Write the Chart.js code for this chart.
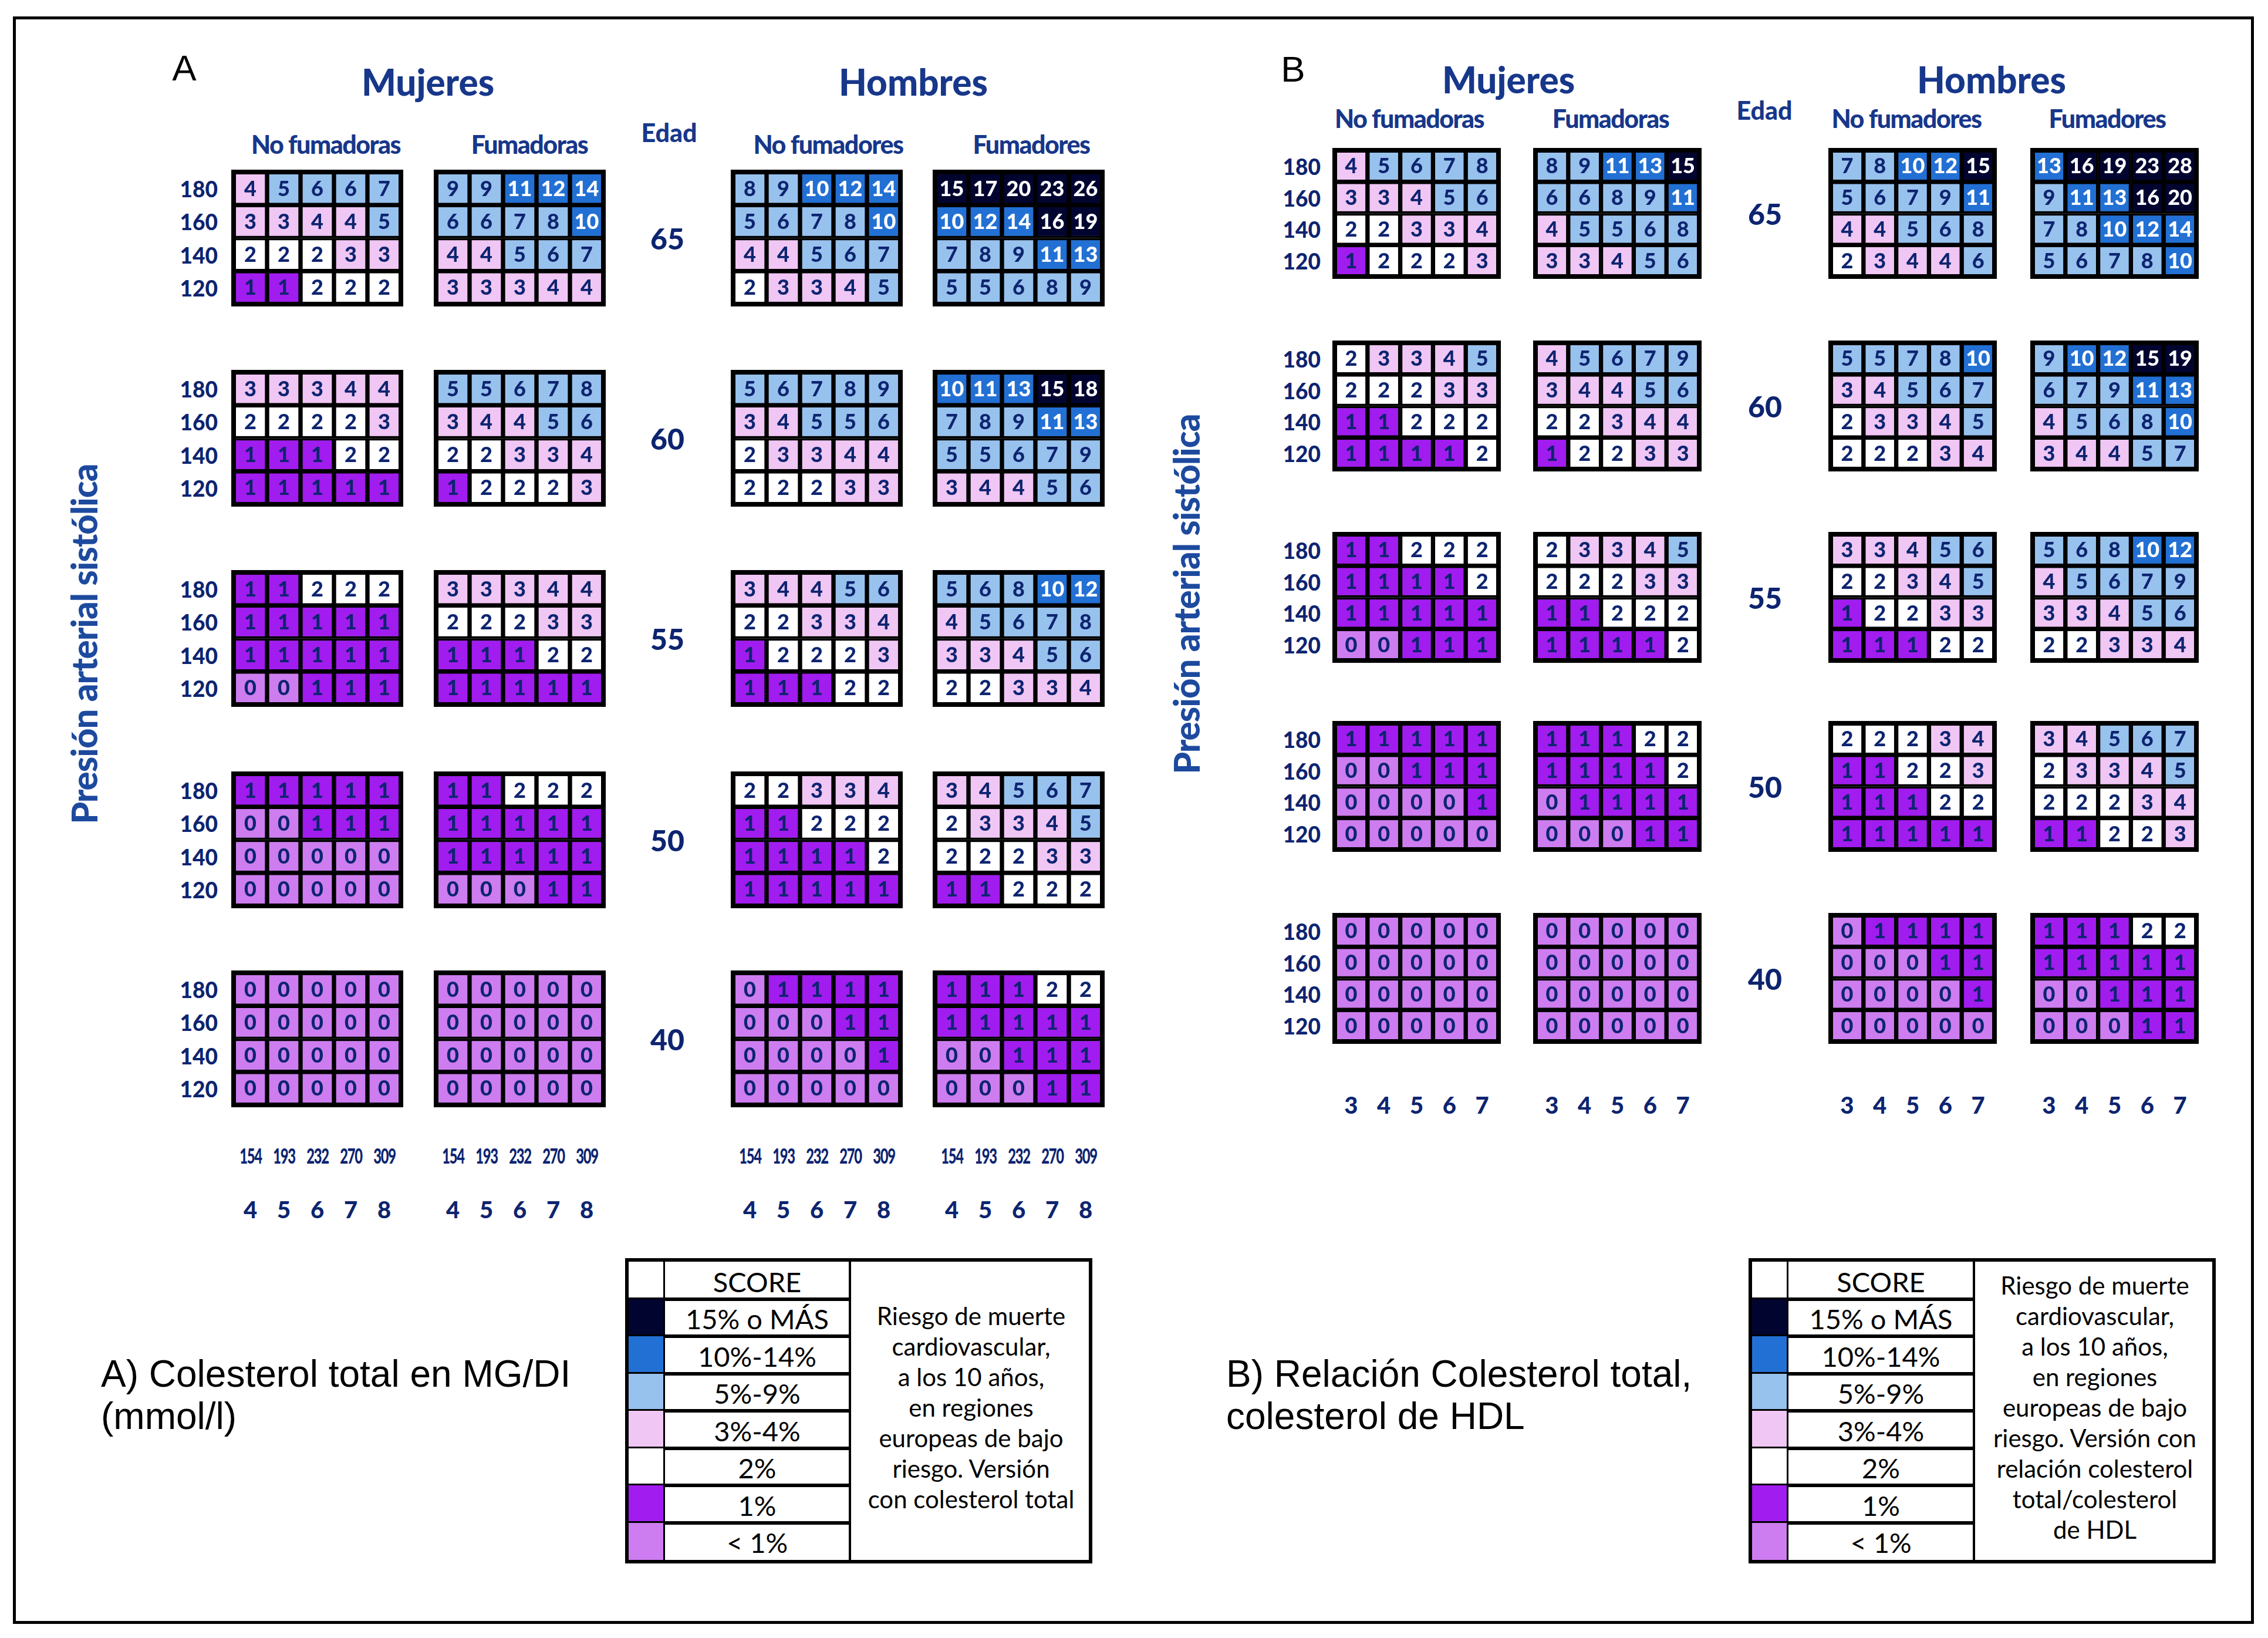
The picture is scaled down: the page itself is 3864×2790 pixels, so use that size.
<!DOCTYPE html>
<html>
<head>
<meta charset="utf-8">
<title>SCORE - riesgo cardiovascular</title>
<script src="https://cdn.jsdelivr.net/npm/chart.js@4.4.1/dist/chart.umd.min.js"></script>
<style>
  html, body { margin: 0; padding: 0; background: #fff; }
  #page { position: relative; width: 3864px; height: 2790px; overflow: hidden; font-family: Lato, 'Open Sans', sans-serif; }
  #frame { position: absolute; left: 22px; top: 28px; width: 3818px; height: 2738px; border: 5px solid #000; box-sizing: border-box; }
  .t { position: absolute; white-space: nowrap; line-height: 1; transform: translate(-50%, -50%); }
  canvas.grid { position: absolute; }
</style>
</head>
<body>
<div id="page"><div id="frame"></div></div>
<script>
const ages = [65, 60, 55, 50, 40];
const sbpLabels = ['180', '160', '140', '120'];
const cholMmol = ['4', '5', '6', '7', '8'];
const cholMg = ['154', '193', '232', '270', '309'];
const ratioLabels = ['3', '4', '5', '6', '7'];
const scoreLevels = ['15% o MÁS', '10%-14%', '5%-9%', '3%-4%', '2%', '1%', '< 1%'];
const levelColors = ['#020430', '#2270d4', '#98c2ee', '#f0c6f4', '#ffffff', '#a11cef', '#cd7df0'];

// A) colesterol total - rows 180..120, columns 4..8 mmol/l, one block per age
const aWomenNonSmoker = [
  [[4, 5, 6, 6, 7], [3, 3, 4, 4, 5], [2, 2, 2, 3, 3], [1, 1, 2, 2, 2]],
  [[3, 3, 3, 4, 4], [2, 2, 2, 2, 3], [1, 1, 1, 2, 2], [1, 1, 1, 1, 1]],
  [[1, 1, 2, 2, 2], [1, 1, 1, 1, 1], [1, 1, 1, 1, 1], [0, 0, 1, 1, 1]],
  [[1, 1, 1, 1, 1], [0, 0, 1, 1, 1], [0, 0, 0, 0, 0], [0, 0, 0, 0, 0]],
  [[0, 0, 0, 0, 0], [0, 0, 0, 0, 0], [0, 0, 0, 0, 0], [0, 0, 0, 0, 0]]
];
const aWomenSmoker = [
  [[9, 9, 11, 12, 14], [6, 6, 7, 8, 10], [4, 4, 5, 6, 7], [3, 3, 3, 4, 4]],
  [[5, 5, 6, 7, 8], [3, 4, 4, 5, 6], [2, 2, 3, 3, 4], [1, 2, 2, 2, 3]],
  [[3, 3, 3, 4, 4], [2, 2, 2, 3, 3], [1, 1, 1, 2, 2], [1, 1, 1, 1, 1]],
  [[1, 1, 2, 2, 2], [1, 1, 1, 1, 1], [1, 1, 1, 1, 1], [0, 0, 0, 1, 1]],
  [[0, 0, 0, 0, 0], [0, 0, 0, 0, 0], [0, 0, 0, 0, 0], [0, 0, 0, 0, 0]]
];
const aMenNonSmoker = [
  [[8, 9, 10, 12, 14], [5, 6, 7, 8, 10], [4, 4, 5, 6, 7], [2, 3, 3, 4, 5]],
  [[5, 6, 7, 8, 9], [3, 4, 5, 5, 6], [2, 3, 3, 4, 4], [2, 2, 2, 3, 3]],
  [[3, 4, 4, 5, 6], [2, 2, 3, 3, 4], [1, 2, 2, 2, 3], [1, 1, 1, 2, 2]],
  [[2, 2, 3, 3, 4], [1, 1, 2, 2, 2], [1, 1, 1, 1, 2], [1, 1, 1, 1, 1]],
  [[0, 1, 1, 1, 1], [0, 0, 0, 1, 1], [0, 0, 0, 0, 1], [0, 0, 0, 0, 0]]
];
const aMenSmoker = [
  [[15, 17, 20, 23, 26], [10, 12, 14, 16, 19], [7, 8, 9, 11, 13], [5, 5, 6, 8, 9]],
  [[10, 11, 13, 15, 18], [7, 8, 9, 11, 13], [5, 5, 6, 7, 9], [3, 4, 4, 5, 6]],
  [[5, 6, 8, 10, 12], [4, 5, 6, 7, 8], [3, 3, 4, 5, 6], [2, 2, 3, 3, 4]],
  [[3, 4, 5, 6, 7], [2, 3, 3, 4, 5], [2, 2, 2, 3, 3], [1, 1, 2, 2, 2]],
  [[1, 1, 1, 2, 2], [1, 1, 1, 1, 1], [0, 0, 1, 1, 1], [0, 0, 0, 1, 1]]
];

// B) relacion colesterol total / HDL - columns 3..7
const bWomenNonSmoker = [
  [[4, 5, 6, 7, 8], [3, 3, 4, 5, 6], [2, 2, 3, 3, 4], [1, 2, 2, 2, 3]],
  [[2, 3, 3, 4, 5], [2, 2, 2, 3, 3], [1, 1, 2, 2, 2], [1, 1, 1, 1, 2]],
  [[1, 1, 2, 2, 2], [1, 1, 1, 1, 2], [1, 1, 1, 1, 1], [0, 0, 1, 1, 1]],
  [[1, 1, 1, 1, 1], [0, 0, 1, 1, 1], [0, 0, 0, 0, 1], [0, 0, 0, 0, 0]],
  [[0, 0, 0, 0, 0], [0, 0, 0, 0, 0], [0, 0, 0, 0, 0], [0, 0, 0, 0, 0]]
];
const bWomenSmoker = [
  [[8, 9, 11, 13, 15], [6, 6, 8, 9, 11], [4, 5, 5, 6, 8], [3, 3, 4, 5, 6]],
  [[4, 5, 6, 7, 9], [3, 4, 4, 5, 6], [2, 2, 3, 4, 4], [1, 2, 2, 3, 3]],
  [[2, 3, 3, 4, 5], [2, 2, 2, 3, 3], [1, 1, 2, 2, 2], [1, 1, 1, 1, 2]],
  [[1, 1, 1, 2, 2], [1, 1, 1, 1, 2], [0, 1, 1, 1, 1], [0, 0, 0, 1, 1]],
  [[0, 0, 0, 0, 0], [0, 0, 0, 0, 0], [0, 0, 0, 0, 0], [0, 0, 0, 0, 0]]
];
const bMenNonSmoker = [
  [[7, 8, 10, 12, 15], [5, 6, 7, 9, 11], [4, 4, 5, 6, 8], [2, 3, 4, 4, 6]],
  [[5, 5, 7, 8, 10], [3, 4, 5, 6, 7], [2, 3, 3, 4, 5], [2, 2, 2, 3, 4]],
  [[3, 3, 4, 5, 6], [2, 2, 3, 4, 5], [1, 2, 2, 3, 3], [1, 1, 1, 2, 2]],
  [[2, 2, 2, 3, 4], [1, 1, 2, 2, 3], [1, 1, 1, 2, 2], [1, 1, 1, 1, 1]],
  [[0, 1, 1, 1, 1], [0, 0, 0, 1, 1], [0, 0, 0, 0, 1], [0, 0, 0, 0, 0]]
];
const bMenSmoker = [
  [[13, 16, 19, 23, 28], [9, 11, 13, 16, 20], [7, 8, 10, 12, 14], [5, 6, 7, 8, 10]],
  [[9, 10, 12, 15, 19], [6, 7, 9, 11, 13], [4, 5, 6, 8, 10], [3, 4, 4, 5, 7]],
  [[5, 6, 8, 10, 12], [4, 5, 6, 7, 9], [3, 3, 4, 5, 6], [2, 2, 3, 3, 4]],
  [[3, 4, 5, 6, 7], [2, 3, 3, 4, 5], [2, 2, 2, 3, 4], [1, 1, 2, 2, 3]],
  [[1, 1, 1, 2, 2], [1, 1, 1, 1, 1], [0, 0, 1, 1, 1], [0, 0, 0, 1, 1]]
];

const NAVY = '#0d2470';
const page = document.getElementById('page');

function levelOf(v) {
  if (v >= 15) return 0;
  if (v >= 10) return 1;
  if (v >= 5) return 2;
  if (v >= 3) return 3;
  if (v === 2) return 4;
  if (v === 1) return 5;
  return 6;
}

function text(str, x, y, style) {
  const d = document.createElement('div');
  d.className = 't';
  d.textContent = str;
  d.style.left = x + 'px';
  d.style.top = y + 'px';
  Object.assign(d.style, style || {});
  page.appendChild(d);
  return d;
}

// numbers inside the cells + black outer frame
const cellLabels = {
  id: 'cellLabels',
  afterDatasetsDraw(chart) {
    const ctx = chart.ctx;
    ctx.save();
    ctx.font = '900 36px Lato';
    ctx.textAlign = 'center';
    ctx.textBaseline = 'middle';
    chart.data.datasets.forEach((ds, i) => {
      chart.getDatasetMeta(i).data.forEach((bar, j) => {
        const v = ds.score[j];
        ctx.fillStyle = v >= 10 ? '#ffffff' : NAVY;
        ctx.fillText(String(v), bar.x, (bar.y + bar.base) / 2 + 1);
      });
    });
    const a = chart.chartArea;
    ctx.lineWidth = 8;
    ctx.strokeStyle = '#000';
    ctx.strokeRect(a.left, a.top, a.right - a.left, a.bottom - a.top);
    ctx.restore();
  }
};

function drawGrid(values, cols, left, top, w, h) {
  const canvas = document.createElement('canvas');
  canvas.className = 'grid';
  canvas.width = w;
  canvas.height = h;
  canvas.style.left = left + 'px';
  canvas.style.top = top + 'px';
  page.appendChild(canvas);
  // bottom row (120) first so the stack grows upward
  const datasets = sbpLabels.map((lab, r) => ({
    label: lab,
    score: values[r],
    data: values[r].map(() => 1),
    backgroundColor: values[r].map(v => levelColors[levelOf(v)]),
    borderColor: '#000',
    borderWidth: 4,
    borderSkipped: false,
    barPercentage: 1,
    categoryPercentage: 1
  })).reverse();
  new Chart(canvas, {
    type: 'bar',
    data: { labels: cols, datasets: datasets },
    options: {
      responsive: false,
      animation: false,
      devicePixelRatio: 1,
      layout: { padding: 4 },
      plugins: { legend: { display: false }, tooltip: { enabled: false } },
      scales: {
        x: { stacked: true, display: false },
        y: { stacked: true, display: false, min: 0, max: sbpLabels.length }
      }
    },
    plugins: [cellLabels]
  });
}

const panels = [
  {
    groups: [aWomenNonSmoker, aWomenSmoker, aMenNonSmoker, aMenSmoker],
    x: [394, 739, 1245, 1589], w: 293, tops: [289, 630, 971, 1314, 1653], h: 233,
    cols: cholMmol, ageX: 1137, sbpRight: 371, bottomY: 2060, mgY: 1968,
    letter: ['A', 314, 116], sexY: 139, sexX: [729, 1556], subY: 245, subX: [555, 902, 1411, 1757], edad: [1140, 225],
    yLabel: [143, 1097]
  },
  {
    groups: [bWomenNonSmoker, bWomenSmoker, bMenNonSmoker, bMenSmoker],
    x: [2270, 2612, 3115, 3459], w: 287, tops: [252, 580, 906, 1228, 1555], h: 223,
    cols: ratioLabels, ageX: 3007, sbpRight: 2250, bottomY: 1882, mgY: null,
    letter: ['B', 2203, 118], sexY: 135, sexX: [2570, 3393], subY: 201, subX: [2401, 2744, 3248, 3590], edad: [3006, 187],
    yLabel: [2021, 1012]
  }
];
const subTitles = ['No fumadoras', 'Fumadoras', 'No fumadores', 'Fumadores'];
const sexTitles = ['Mujeres', 'Hombres'];

const headStyle = { color: '#17378a', fontWeight: '900' };

panels.forEach(p => {
  text(p.letter[0], p.letter[1], p.letter[2], { fontFamily: "'Liberation Sans', Arial, sans-serif", fontSize: '62px', color: '#000' });
  sexTitles.forEach((s, i) => text(s, p.sexX[i], p.sexY, Object.assign({ fontSize: '62px' }, headStyle)));
  subTitles.forEach((s, i) => text(s, p.subX[i], p.subY, Object.assign({ fontSize: '43px', letterSpacing: '-1.5px' }, headStyle)));
  text('Edad', p.edad[0], p.edad[1], Object.assign({ fontSize: '43px' }, headStyle));
  text('Presión arterial sistólica', p.yLabel[0], p.yLabel[1],
    { fontSize: '60px', transform: 'translate(-50%, -50%) rotate(-90deg)', color: '#1d4a9e', fontWeight: '900', letterSpacing: '-1px' });

  ages.forEach((age, k) => {
    const top = p.tops[k];
    p.groups.forEach((g, gi) => drawGrid(g[k], p.cols, p.x[gi], top, p.w, p.h));
    text(String(age), p.ageX, top + p.h / 2, { fontSize: '50px', fontWeight: '900', color: NAVY });
    sbpLabels.forEach((lab, r) => {
      const cy = top + 4 + (p.h - 8) * (r + 0.5) / sbpLabels.length;
      text(lab, p.sbpRight, cy, { fontSize: '37px', fontWeight: '900', color: NAVY, transform: 'translate(-100%, -50%)' });
    });
  });

  p.x.forEach(left => {
    p.cols.forEach((c, j) => {
      const cx = left + 4 + (p.w - 8) * (j + 0.5) / p.cols.length;
      text(c, cx, p.bottomY, { fontSize: '40px', fontWeight: '900', color: NAVY });
      if (p.mgY) {
        text(cholMg[j], cx, p.mgY, { fontSize: '36px', fontWeight: '900', color: NAVY, letterSpacing: '-2px', transform: 'translate(-50%, -50%) scaleX(0.66)' });
      }
    });
  });
});

// legend tables
const legendNotes = [
  ['Riesgo de muerte', 'cardiovascular,', 'a los 10 años,', 'en regiones', 'europeas de bajo', 'riesgo. Versión', 'con colesterol total'],
  ['Riesgo de muerte', 'cardiovascular,', 'a los 10 años,', 'en regiones', 'europeas de bajo', 'riesgo. Versión con', 'relación colesterol', 'total/colesterol', 'de HDL']
];
const captions = [
  ['A) Colesterol total en MG/DI', '(mmol/l)'],
  ['B) Relación Colesterol total,', 'colesterol de HDL']
];
const legendBoxes = [
  { left: 1065, top: 2143, sw: 67, sc: 316, note: 413, capX: 172 },
  { left: 2979, top: 2143, sw: 67, sc: 317, note: 412, capX: 2089 }
];
const ROW = 65;

legendBoxes.forEach((b, i) => {
  const rows = scoreLevels.length + 1;
  const box = document.createElement('div');
  Object.assign(box.style, {
    position: 'absolute', left: b.left + 'px', top: b.top + 'px',
    width: (b.sw + b.sc + b.note) + 'px', height: (rows * ROW) + 'px',
    border: '6px solid #000', boxSizing: 'border-box'
  });
  page.appendChild(box);
  const inner = (rows * ROW - 12);
  for (let r = 0; r < rows; r++) {
    const y0 = 6 + r * (inner / rows);
    if (r > 0) {
      const sw = document.createElement('div');
      Object.assign(sw.style, {
        position: 'absolute', left: (b.left + 6) + 'px', top: (b.top + y0) + 'px',
        width: (b.sw - 6) + 'px', height: (inner / rows) + 'px', background: levelColors[r - 1]
      });
      page.appendChild(sw);
    }
    if (r < rows - 1) {
      const line = document.createElement('div');
      Object.assign(line.style, {
        position: 'absolute', left: b.left + 'px', top: (b.top + y0 + inner / rows - 3) + 'px',
        width: (b.sw + b.sc) + 'px', height: '6px', background: '#000'
      });
      page.appendChild(line);
    }
    const lab = r === 0 ? 'SCORE' : scoreLevels[r - 1];
    text(lab, b.left + b.sw + b.sc / 2, b.top + y0 + inner / rows / 2 + 2,
      { fontSize: '47px', color: '#000', fontFamily: "Lato, sans-serif" });
  }
  [b.sw, b.sw + b.sc].forEach((xx, k) => {
    const v = document.createElement('div');
    Object.assign(v.style, {
      position: 'absolute', left: (b.left + xx - 2) + 'px', top: b.top + 'px',
      width: (k === 0 ? 3 : 4) + 'px', height: (rows * ROW) + 'px', background: '#000'
    });
    page.appendChild(v);
  });
  const notes = legendNotes[i];
  const noteCx = b.left + b.sw + b.sc + b.note / 2;
  const midY = b.top + rows * ROW / 2 - 6;
  notes.forEach((ln, k) => {
    text(ln, noteCx, midY + (k - (notes.length - 1) / 2) * 52, { fontSize: '42px', color: '#000' });
  });
  captions[i].forEach((ln, k) => {
    text(ln, b.capX, 2340 + k * 72, { fontSize: '64px', color: '#000', fontFamily: "'Liberation Sans', Arial, sans-serif", transform: 'translate(0, -50%)' });
  });
});
</script>
</body>
</html>
